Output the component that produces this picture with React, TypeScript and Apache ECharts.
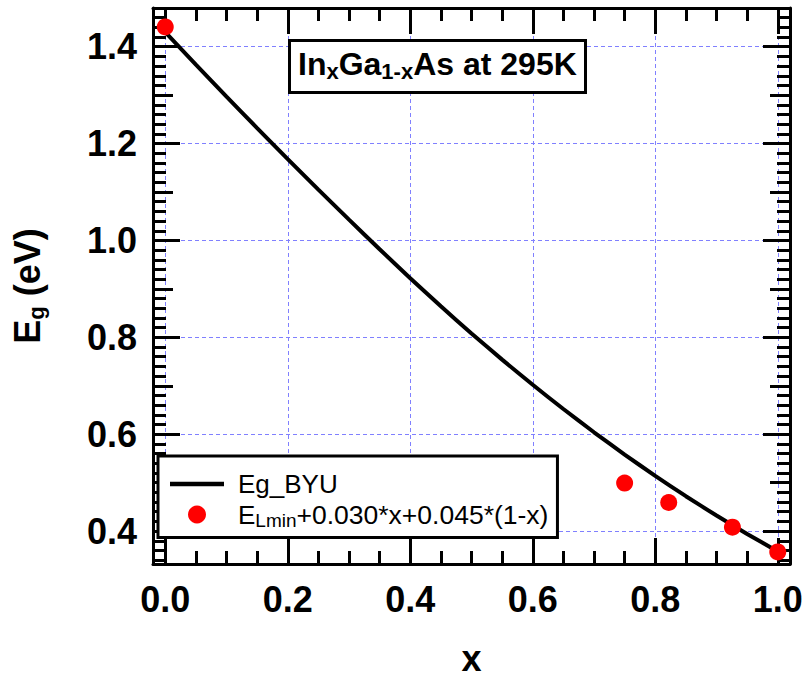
import React, { useEffect, useRef } from 'react';
import * as echarts from 'echarts';

// Eg_BYU curve
const curveX = [0, 0.05, 0.1, 0.15, 0.2, 0.25, 0.3, 0.35, 0.4, 0.45, 0.5, 0.55, 0.6, 0.65, 0.7, 0.75, 0.8, 0.85, 0.9, 0.95, 1.0];
const curveY = [1.43, 1.363, 1.297, 1.232, 1.168, 1.105, 1.043, 0.982, 0.922, 0.864, 0.808, 0.754, 0.702, 0.652, 0.604, 0.558, 0.514, 0.472, 0.432, 0.394, 0.358];

// E_Lmin + 0.030*x + 0.045*(1-x) points
const pointX = [0, 0.75, 0.822, 0.926, 1.0];
const pointY = [1.441, 0.499, 0.459, 0.408, 0.357];

const seriesNames = ['Eg_BYU', 'ELmin+0.030*x+0.045*(1-x)'];

const xTickValues = [0, 0.2, 0.4, 0.6, 0.8, 1.0];
const xTickLabels = ['0.0', '0.2', '0.4', '0.6', '0.8', '1.0'];
const yTickValues = [0.4, 0.6, 0.8, 1.0, 1.2, 1.4];
const yTickLabels = ['0.4', '0.6', '0.8', '1.0', '1.2', '1.4'];
const yMidTicks = [0.5, 0.7, 0.9, 1.1, 1.3];

const xMinorTicks: number[] = [];
for (let i = 0; i <= 20; i++) xMinorTicks.push(Math.round(i * 5) / 100);
const yMinorTicks: number[] = [];
for (let i = 17; i <= 74; i++) yMinorTicks.push(Math.round(i * 2) / 100);

const FONT = "'Liberation Sans', Arial, sans-serif";
const X_MIN = -0.02, X_MAX = 1.02, Y_MIN = 0.332, Y_MAX = 1.48;

function tickAxis(kind: 'x' | 'y', position: string, values: number[], length: number, showLine: boolean) {
  return {
    type: 'value',
    position,
    min: kind === 'x' ? X_MIN : Y_MIN,
    max: kind === 'x' ? X_MAX : Y_MAX,
    axisLine: { show: showLine, onZero: false, lineStyle: { color: '#000', width: 3 } },
    axisTick: { show: true, inside: true, length, customValues: values, lineStyle: { color: '#000', width: 3 } },
    axisLabel: { show: false },
    splitLine: { show: false },
  };
}

export default function App() {
  const ref = useRef<HTMLDivElement>(null);
  useEffect(() => {
    if (!ref.current) return;
    const chart = echarts.init(ref.current, undefined, { renderer: 'svg' });
    const labelStyle = { fontFamily: FONT, fontSize: 36, fontWeight: 'bold', color: '#000' };
    chart.setOption({
      animation: false,
      backgroundColor: '#fff',
      grid: { left: 153, right: 16, top: 8, bottom: 119, containLabel: false },
      title: {
        text: '{n|In}{s|x}{n|Ga}{s|1-x}{n|As at 295K}',
        left: 289,
        top: 38,
        padding: [8, 9, 11, 9],
        borderColor: '#000',
        borderWidth: 3,
        backgroundColor: '#fff',
        textStyle: {
          fontFamily: FONT, fontSize: 32, fontWeight: 'bold', color: '#000',
          rich: {
            n: { fontFamily: FONT, fontSize: 32, fontWeight: 'bold', color: '#000', lineHeight: 36 },
            s: { fontFamily: FONT, fontSize: 22, fontWeight: 'bold', color: '#000', lineHeight: 28, verticalAlign: 'bottom' },
          },
        },
      },
      legend: {
        left: 158,
        top: 456,
        orient: 'vertical',
        itemWidth: 54,
        itemHeight: 18,
        itemGap: 4,
        padding: [15, 9, 8, 12],
        borderColor: '#000',
        borderWidth: 3,
        backgroundColor: '#fff',
        selectedMode: false,
        data: [
          { name: seriesNames[0], icon: 'path://M0 0H54V4.5H0Z' },
          { name: seriesNames[1], icon: 'circle' },
        ],
        textStyle: {
          fontFamily: FONT, fontSize: 26, color: '#000',
          rich: {
            f: { fontFamily: FONT, fontSize: 26, color: '#000', lineHeight: 30, padding: [0, 0, 0, 9] },
            n: { fontFamily: FONT, fontSize: 26.5, color: '#000', lineHeight: 30 },
            s: { fontFamily: FONT, fontSize: 19, color: '#000', lineHeight: 19, verticalAlign: 'bottom' },
          },
        },
        formatter: (name: string) =>
          name === seriesNames[0] ? '{f|Eg_BYU}' : '{f|E}{s|Lmin}{n|+0.030*x+0.045*(1-x)}',
      },
      xAxis: [
        {
          type: 'value',
          position: 'bottom',
          min: X_MIN,
          max: X_MAX,
          name: 'x',
          nameLocation: 'middle',
          nameGap: 76,
          nameTextStyle: { fontFamily: FONT, fontSize: 36, fontWeight: 'bold', color: '#000' },
          axisLine: { show: true, onZero: false, lineStyle: { color: '#000', width: 3 } },
          axisTick: { show: true, inside: true, length: 26, customValues: xTickValues, lineStyle: { color: '#000', width: 3 } },
          axisLabel: {
            ...labelStyle,
            margin: 17,
            customValues: xTickValues,
            formatter: (v: number) => {
              const i = xTickValues.findIndex((t) => Math.abs(t - v) < 1e-9);
              return i >= 0 ? xTickLabels[i] : '';
            },
          },
          splitLine: { show: true, lineStyle: { color: '#8080ff', width: 1, type: [4, 3] } },
        },
        tickAxis('x', 'bottom', xMinorTicks, 13, false),
        tickAxis('x', 'top', xTickValues, 26, true),
        tickAxis('x', 'top', xMinorTicks, 13, false),
      ],
      yAxis: [
        {
          type: 'value',
          position: 'left',
          min: Y_MIN,
          max: Y_MAX,
          name: '{b|E}{s|g}{b| (eV)}',
          nameLocation: 'middle',
          nameGap: 106,
          nameRotate: 90,
          nameTextStyle: {
            fontFamily: FONT, fontSize: 36, fontWeight: 'bold', color: '#000',
            rich: {
              b: { fontFamily: FONT, fontSize: 36, fontWeight: 'bold', color: '#000', lineHeight: 40 },
              s: { fontFamily: FONT, fontSize: 22, fontWeight: 'bold', color: '#000', lineHeight: 27, verticalAlign: 'bottom' },
            },
          },
          axisLine: { show: true, onZero: false, lineStyle: { color: '#000', width: 3 } },
          axisTick: { show: true, inside: true, length: 27, customValues: yTickValues, lineStyle: { color: '#000', width: 3 } },
          axisLabel: {
            ...labelStyle,
            margin: 16,
            customValues: yTickValues,
            formatter: (v: number) => {
              const i = yTickValues.findIndex((t) => Math.abs(t - v) < 1e-9);
              return i >= 0 ? yTickLabels[i] : '';
            },
          },
          splitLine: { show: true, lineStyle: { color: '#8080ff', width: 1, type: [4, 3] } },
        },
        tickAxis('y', 'left', yMidTicks, 20, false),
        tickAxis('y', 'left', yMinorTicks, 13, false),
        tickAxis('y', 'right', yTickValues, 27, true),
        tickAxis('y', 'right', yMidTicks, 20, false),
        tickAxis('y', 'right', yMinorTicks, 13, false),
      ],
      series: [
        {
          name: seriesNames[0],
          type: 'line',
          xAxisIndex: 0,
          yAxisIndex: 0,
          symbol: 'none',
          smooth: 0.2,
          lineStyle: { color: '#000', width: 4 },
          itemStyle: { color: '#000' },
          data: curveX.map((x, i) => [x, curveY[i]]),
          z: 3,
        },
        {
          name: seriesNames[1],
          type: 'scatter',
          xAxisIndex: 0,
          yAxisIndex: 0,
          symbol: 'circle',
          symbolSize: 17,
          itemStyle: { color: '#ff0000', opacity: 1 },
          data: pointX.map((x, i) => [x, pointY[i]]),
          z: 4,
        },
      ],
    });
    return () => chart.dispose();
  }, []);
  return <div ref={ref} style={{ width: 806, height: 683, position: 'absolute', left: 0, top: 0 }} />;
}
